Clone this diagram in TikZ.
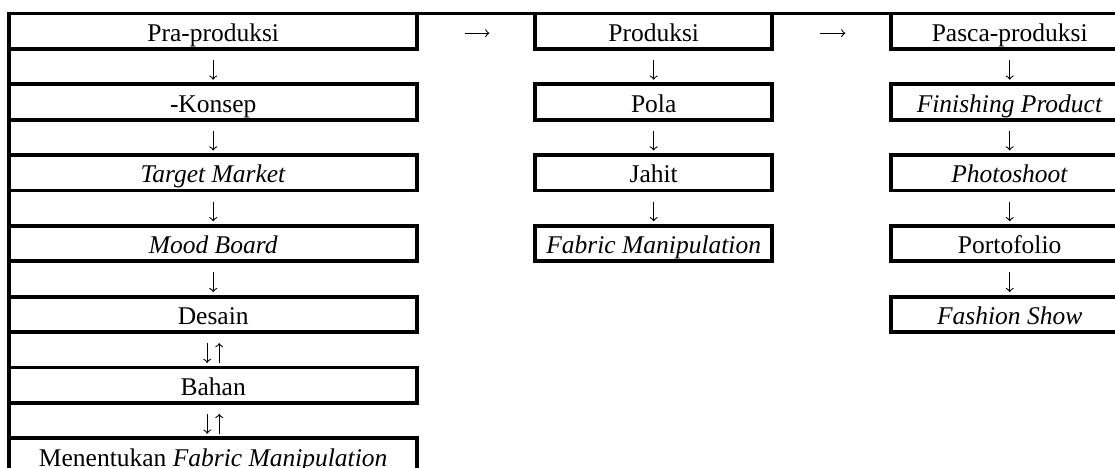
\documentclass[tikz,border=0pt]{standalone}
\usepackage{fontspec}
\setmainfont{Liberation Serif}
\usetikzlibrary{arrows, positioning}

\begin{document}
\begin{tikzpicture}[
    x=0.5pt, y=-0.5pt,
    box/.style={rectangle, draw, line width=1.9pt, inner sep=0pt, outer sep=0pt,
        minimum height=17.7pt, text height=11pt, text depth=1pt,
        font=\fontsize{12.75}{14}\selectfont},
    wide/.style={box, minimum width=203.85pt},
    narrow/.style={box, minimum width=118.35pt},
    rule/.style={line width=1.9pt},
    vflow/.style={->, >=to, line width=0.55pt, shorten <=5.5pt, shorten >=2.3pt},
    vflowup/.style={->, >=to, line width=0.55pt, shorten <=2.3pt, shorten >=5.5pt},
    hflow/.style={->, >=to, line width=0.55pt, shorten <=24pt, shorten >=23pt}
]
    \clip (0,0) rectangle (1115,467);

    % Pra-produksi
    \node[wide] (prapro) at (213.2,31.2) {Pra-produksi};
    \node[wide, below=17.7pt of prapro] (konsep) {-Konsep};
    \node[wide, below=17.7pt of konsep] (target) {\textit{Target Market}};
    \node[wide, below=17.7pt of target] (mood) {\textit{Mood Board}};
    \node[wide, below=17.7pt of mood] (desain) {Desain};
    \node[wide, below=17.7pt of desain] (bahan) {Bahan};
    \node[wide, below=17.7pt of bahan] (menentukan) {Menentukan \textit{Fabric Manipulation}};

    % Produksi
    \node[narrow] (produksi) at (653.7,31.2) {Produksi};
    \node[narrow, below=17.7pt of produksi] (pola) {Pola};
    \node[narrow, below=17.7pt of pola] (jahit) {Jahit};
    \node[narrow, below=17.7pt of jahit] (fabric) {\textit{Fabric Manipulation}};

    % Pasca-produksi
    \node[narrow] (pasca) at (1009.7,31.2) {Pasca-produksi};
    \node[narrow, below=17.7pt of pasca] (finishing) {\textit{Finishing Product}};
    \node[narrow, below=17.7pt of finishing] (photo) {\textit{Photoshoot}};
    \node[narrow, below=17.7pt of photo] (porto) {Portofolio};
    \node[narrow, below=17.7pt of porto] (fashion) {\textit{Fashion Show}};

    % table rules
    \draw[rule] (prapro.north west) -- (pasca.north east);
    \draw[rule] (prapro.north west) -- (menentukan.south west);

    % Arrows
    \draw[hflow] ([yshift=-1pt]prapro.east) -- ([yshift=-1pt]produksi.west);
    \draw[hflow] ([yshift=-1pt]produksi.east) -- ([yshift=-1pt]pasca.west);

    \draw[vflow] (prapro) -- (konsep);
    \draw[vflow] (konsep) -- (target);
    \draw[vflow] (target) -- (mood);
    \draw[vflow] (mood) -- (desain);
    \draw[vflow] ([xshift=-3pt]desain.south) -- ([xshift=-3pt]bahan.north);
    \draw[vflowup] ([xshift=3pt]bahan.north) -- ([xshift=3pt]desain.south);
    \draw[vflow] ([xshift=-3pt]bahan.south) -- ([xshift=-3pt]menentukan.north);
    \draw[vflowup] ([xshift=3pt]menentukan.north) -- ([xshift=3pt]bahan.south);

    \draw[vflow] (produksi) -- (pola);
    \draw[vflow] (pola) -- (jahit);
    \draw[vflow] (jahit) -- (fabric);

    \draw[vflow] (pasca) -- (finishing);
    \draw[vflow] (finishing) -- (photo);
    \draw[vflow] (photo) -- (porto);
    \draw[vflow] (porto) -- (fashion);
\end{tikzpicture}
\end{document}
